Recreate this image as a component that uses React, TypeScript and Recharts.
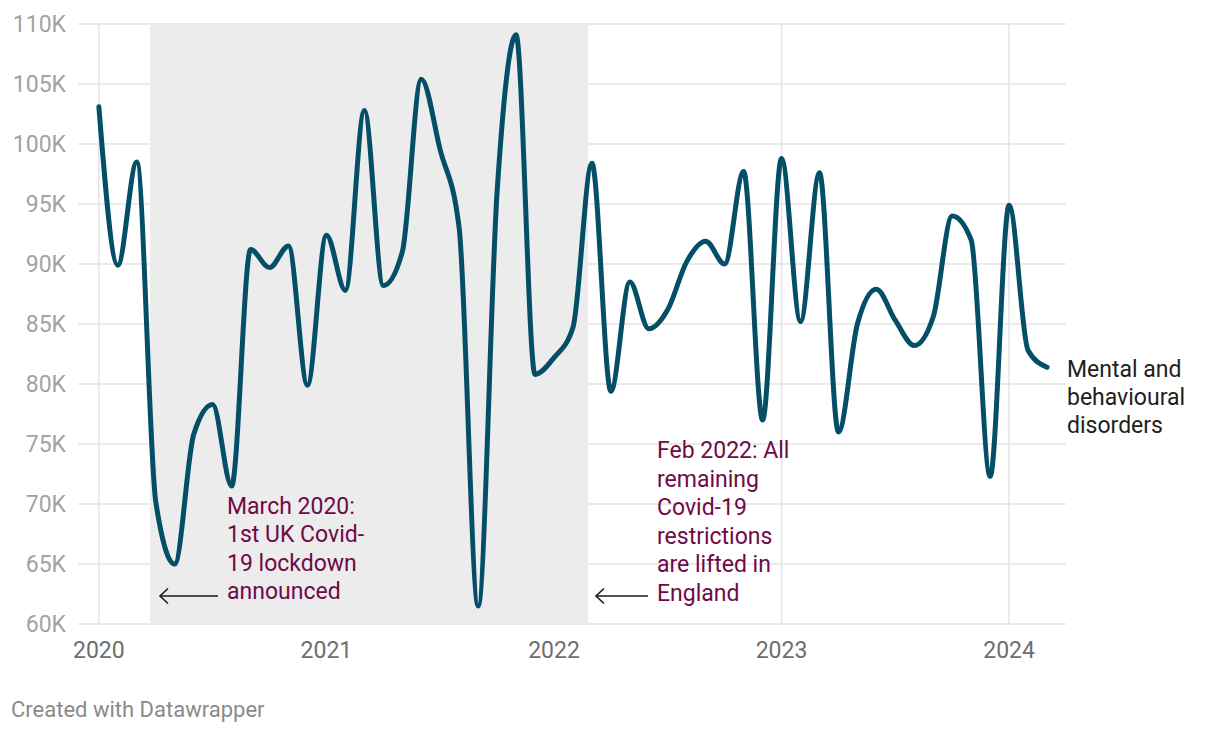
import React from "react";
import {
  LineChart,
  Line,
  XAxis,
  YAxis,
  CartesianGrid,
  ReferenceArea,
} from "recharts";

// Monthly values, Jan 2020 – Mar 2024
const months: string[] = [
  "2020-01", "2020-02", "2020-03", "2020-04", "2020-05", "2020-06", "2020-07", "2020-08", "2020-09", "2020-10", "2020-11", "2020-12",
  "2021-01", "2021-02", "2021-03", "2021-04", "2021-05", "2021-06", "2021-07", "2021-08", "2021-09", "2021-10", "2021-11", "2021-12",
  "2022-01", "2022-02", "2022-03", "2022-04", "2022-05", "2022-06", "2022-07", "2022-08", "2022-09", "2022-10", "2022-11", "2022-12",
  "2023-01", "2023-02", "2023-03", "2023-04", "2023-05", "2023-06", "2023-07", "2023-08", "2023-09", "2023-10", "2023-11", "2023-12",
  "2024-01", "2024-02", "2024-03",
];

const mentalBehavioural: number[] = [
  103100, 89900, 98500, 70200, 65000, 75800, 78300, 71500, 91200, 89700, 91500, 79900,
  92400, 87800, 102800, 88200, 91000, 105400, 99500, 93000, 61500, 96000, 109100, 80800,
  82200, 84700, 98400, 79400, 88500, 84600, 86200, 90200, 91900, 90000, 97700, 77000,
  98800, 85200, 97600, 76000, 85000, 87900, 85300, 83200, 85600, 94000, 92000, 72300,
  94900, 82800, 81400,
];

const yTicks: number[] = [60000, 65000, 70000, 75000, 80000, 85000, 90000, 95000, 100000, 105000, 110000];
const xTickIdx: number[] = [0, 12, 24, 36, 48];
const xTickLabels: string[] = ["2020", "2021", "2022", "2023", "2024"];
const xDomain: [number, number] = [-1.1, 51];

// shaded period (month index): 23 Mar 2020 – 24 Feb 2022
const shadeStart = 2.7;
const shadeEnd = 25.8;

const seriesLabel: string[] = ["Mental and", "behavioural", "disorders"];
const note1: string[] = ["March 2020:", "1st UK Covid-", "19 lockdown", "announced"];
const note2: string[] = ["Feb 2022: All", "remaining", "Covid-19", "restrictions", "are lifted in", "England"];

const data = months.map((m, i) => ({ idx: i, month: m, value: mentalBehavioural[i] }));

const FONT = "Roboto, 'Noto Sans', sans-serif";
const LINE = "#044e67";
const NOTE = "#6f0a47";
const GRID = "#e3e3e3";

const verticalGen = (props: any) => {
  const xAxis = props?.xAxis;
  if (xAxis && typeof xAxis.scale === "function") {
    return xTickIdx.map((v) => xAxis.scale(v));
  }
  const off = props?.offset ?? { left: 78, width: 988 };
  return xTickIdx.map(
    (v) => off.left + ((v - xDomain[0]) / (xDomain[1] - xDomain[0])) * off.width
  );
};

export default function App() {
  return (
    <div style={{ position: "absolute", left: 0, top: 0, width: 1220, height: 740, background: "#fff", fontFamily: FONT }}>
      <LineChart
        width={1220}
        height={740}
        data={data}
        margin={{ top: 24, right: 154, bottom: 76, left: 0 }}
      >
        <ReferenceArea x1={shadeStart} x2={shadeEnd} fill="#ececec" fillOpacity={1} stroke="none" ifOverflow="hidden" />
        <CartesianGrid stroke={GRID} strokeWidth={1.5} verticalCoordinatesGenerator={verticalGen} />
        <XAxis
          dataKey="idx"
          type="number"
          domain={xDomain}
          ticks={xTickIdx}
          tickFormatter={(v: number) => xTickLabels[xTickIdx.indexOf(v)] ?? ""}
          axisLine={false}
          tickLine={false}
          tickSize={0}
          tickMargin={18}
          height={40}
          tick={{ fill: "#6e6e6e", fontSize: 23, fontFamily: FONT }}
        />
        <YAxis
          type="number"
          domain={[60000, 110000]}
          ticks={yTicks}
          tickFormatter={(v: number) => `${v / 1000}K`}
          axisLine={false}
          tickLine={false}
          tickSize={0}
          tickMargin={12}
          width={78}
          tick={{ fill: "#a2a2a2", fontSize: 23, fontFamily: FONT }}
        />
        <Line
          type="monotone"
          dataKey="value"
          stroke={LINE}
          strokeWidth={5}
          dot={false}
          activeDot={false}
          isAnimationActive={false}
          strokeLinecap="round"
          strokeLinejoin="round"
        />
      </LineChart>
      <svg
        width={1220}
        height={740}
        style={{ position: "absolute", left: 0, top: 0, pointerEvents: "none" }}
      >
        <g fontFamily={FONT} fontSize={23}>
          {seriesLabel.map((t, k) => (
            <text key={"s" + k} x={1067} y={377 + k * 28} fill="#1e1e1e">{t}</text>
          ))}
          {note1.map((t, k) => (
            <text key={"a" + k} x={227} y={514 + k * 28.4} fill={NOTE}>{t}</text>
          ))}
          {note2.map((t, k) => (
            <text key={"b" + k} x={657} y={458 + k * 28.5} fill={NOTE}>{t}</text>
          ))}
        </g>
        <g stroke="#1a1a1a" strokeWidth={1.6} fill="none">
          <line x1={218} y1={596} x2={160} y2={596} />
          <polyline points="168,588.5 160,596 168,603.5" />
          <line x1={648} y1={596} x2={596} y2={596} />
          <polyline points="604,588.5 596,596 604,603.5" />
        </g>
        <text x={11} y={717} fontFamily={FONT} fontSize={22} fill="#8a8a8a">Created with Datawrapper</text>
      </svg>
    </div>
  );
}
